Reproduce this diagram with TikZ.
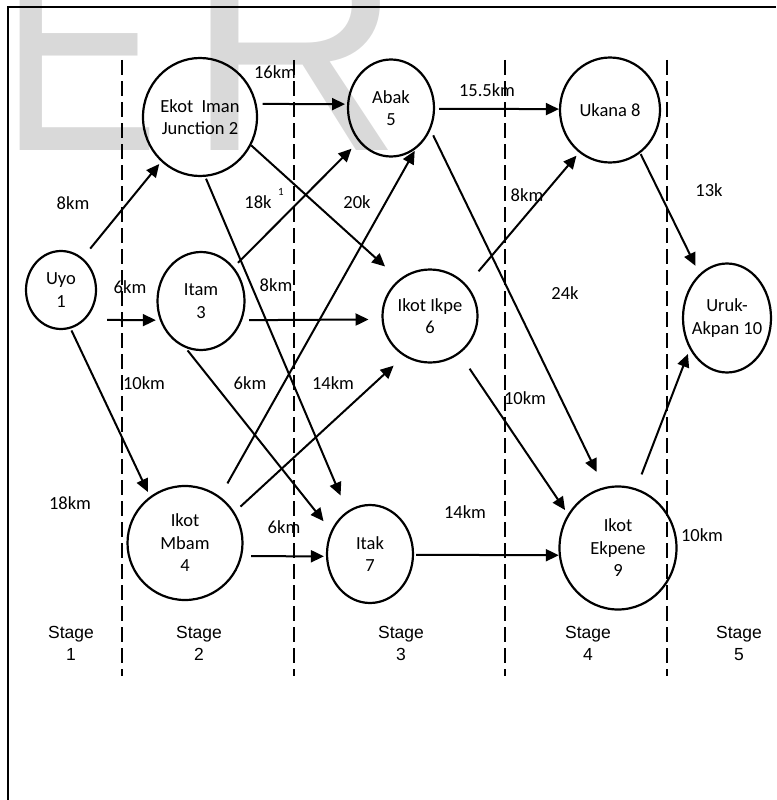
\documentclass[tikz,border=0pt]{standalone}
\usepackage{fontspec}
\setmainfont{Carlito}
\newfontfamily\stagefont{Liberation Sans}
\usetikzlibrary{arrows.meta, shapes.geometric}

\begin{document}
\begin{tikzpicture}[
        x=1pt, y=-1pt,
        town/.style={ellipse, draw=black, line width=2.2pt, inner sep=-8pt, align=center, font=\fontsize{18.5}{22.5}\selectfont},
        dist/.style={inner sep=0pt, font=\fontsize{18.5}{22}\selectfont},
        stage/.style={align=center, inner sep=0pt, font=\stagefont\fontsize{17.5}{22}\selectfont},
        divider/.style={line width=2pt, dash pattern=on 15pt off 6pt},
        watermark/.style={anchor=base west, inner sep=0pt, text=black!15, font=\stagefont\fontsize{299}{299}\selectfont},
        arrow/.style={-{Triangle[length=13pt, width=12pt]}, line width=2pt}
    ]
        \useasboundingbox (0,0) rectangle (776,800);

        % watermark
        \node[watermark, xscale=0.8] (markE) at (0,150) {E};
        \node[watermark] (markR) at (186,150) {R};

        % frame and stage dividers
        \draw[line width=2pt] (8,800) -- (8,7) -- (776,7);
        \foreach \x in {122,294,505,667}
            \draw[divider] (\x,60) -- (\x,676);

        \node[town, minimum width=70pt, minimum height=78pt] (uyo) at (61,290) {Uyo\\1};
        \node[town, minimum width=114pt, minimum height=118pt] (ekot) at (200,117) {Ekot\ \ Iman\\Junction 2};
        \node[town, minimum width=87pt, minimum height=98pt] (itam) at (201,301) {Itam\\3};
        \node[town, minimum width=115pt, minimum height=114pt] (mbam) at (185,543) {Ikot\\Mbam\\4};
        \node[town, minimum width=86pt, minimum height=97pt] (abak) at (391,108) {Abak\\5};
        \node[town, minimum width=95pt, minimum height=93pt] (ikpe) at (430,316) {Ikot Ikpe\\6};
        \node[town, minimum width=86pt, minimum height=98pt] (itak) at (370,554) {Itak\\7};
        \node[town, minimum width=100pt, minimum height=105pt] (ukana) at (610,110) {Ukana 8};
        \node[town, minimum width=117pt, minimum height=123pt] (ekpene) at (618,548) {Ikot\\Ekpene\\9};
        \node[town, minimum width=88pt, minimum height=109pt] (uruk) at (727,318) {Uruk-\\Akpan 10};

        \draw[arrow, shorten <=12pt, shorten >=3pt] (uyo.56) -- (ekot.229);
        \draw[arrow, shorten <=22pt, shorten >=4pt] (uyo.-51) -- (itam.205);
        \draw[arrow, shorten <=2pt, shorten >=5pt] (uyo.-76) -- (mbam.127);
        \draw[arrow, shorten <=6pt, shorten >=2pt] (ekot.13) -- (abak.175);
        \draw[arrow, shorten >=19pt] (ekot.-29) -- (ikpe.130);
        \draw[arrow, shorten <=2pt, shorten >=17pt] (ekot.-85) -- (itak.118);
        \draw[arrow, shorten <=6pt, shorten >=10pt] (itam.46) -- (abak.226);
        \draw[arrow, shorten <=7pt, shorten >=13pt] (itam.-25) -- (ikpe.184);
        \draw[arrow, shorten <=3pt, shorten >=12pt] (itam.-108) -- (itak.149);
        \draw[arrow, shorten <=15pt, shorten >=2pt] (mbam.53) -- (abak.-59);
        \draw[arrow, shorten <=8pt, shorten >=14pt] (mbam.32) -- (ikpe.237);
        \draw[arrow, shorten <=9pt, shorten >=2pt] (mbam.-13) -- (itak.183);
        \draw[arrow, shorten <=4pt] (abak.-1) -- (ukana.179);
        \draw[arrow, shorten <=6pt, shorten >=17pt] (abak.-29) -- (ekpene.103);
        \draw[arrow, shorten <=18pt, shorten >=4pt] (ikpe.40) -- (ukana.234);
        \draw[arrow, shorten <=18pt, shorten >=5pt] (ikpe.-52) -- (ekpene.146);
        \draw[arrow, shorten <=2pt] (itak.-1) -- (ekpene.187);
        \draw[arrow, shorten <=1pt, shorten >=9pt] (ukana.-55) -- (uruk.122);
        \draw[arrow, shorten <=15pt, shorten >=5pt] (ekpene.73) -- (uruk.220);

        % distances
        \node[dist] (d1) at (73,203) {8km};
        \node[dist] (d2) at (130,287) {6km};
        \node[dist] (d3) at (144,383) {10km};
        \node[dist] (d4) at (70,503) {18km};
        \node[dist] (d5) at (275,72) {16km};
        \node[dist] (d6) at (258,202) {18k};
        \node[inner sep=0pt, font=\fontsize{11}{11}\selectfont] (d6a) at (281,192) {1};
        \node[dist] (d7) at (357,202) {20k};
        \node[dist] (d8) at (276,285) {8km};
        \node[dist] (d9) at (250,383) {6km};
        \node[dist] (d10) at (333,383) {14km};
        \node[dist] (d11) at (284,527) {6km};
        \node[dist] (d12) at (487,90) {15.5km};
        \node[dist] (d13) at (527,195) {8km};
        \node[dist] (d14) at (565,293) {24k};
        \node[dist] (d15) at (525,398) {10km};
        \node[dist] (d16) at (465,512) {14km};
        \node[dist] (d17) at (709,190) {13k};
        \node[dist] (d18) at (702,535) {10km};

        % stages
        \node[stage] (s1) at (71,643) {Stage\\1};
        \node[stage] (s2) at (199,643) {Stage\\2};
        \node[stage] (s3) at (401,643) {Stage\\3};
        \node[stage] (s4) at (588,643) {Stage\\4};
        \node[stage] (s5) at (739,643) {Stage\\5};
    \end{tikzpicture}
\end{document}
